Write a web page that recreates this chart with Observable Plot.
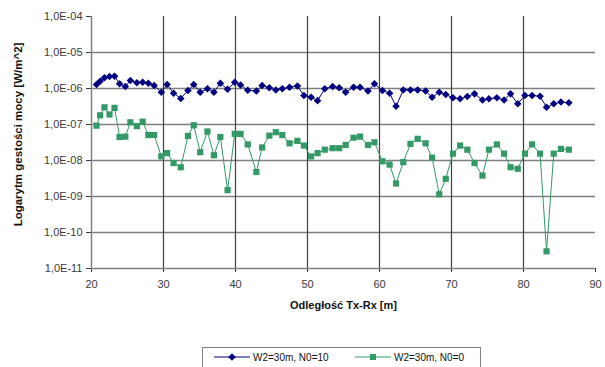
<!DOCTYPE html>
<html>
<head>
<meta charset="utf-8">
<script src="https://cdn.jsdelivr.net/npm/d3@7"></script>
<script src="https://cdn.jsdelivr.net/npm/@observablehq/plot@0.6"></script>
<style>
  html, body { margin: 0; padding: 0; background: #fff; }
  #wrap { position: relative; width: 605px; height: 367px; overflow: hidden; font-family: "Liberation Sans", Arial, sans-serif; }
  #legend { position: absolute; left: 202px; top: 347px; }
</style>
</head>
<body>
<div id="wrap"><div id="chart"></div><div id="legend"></div></div>
<script>
const distances = [20.7,21.2,21.8,22.5,23.2,23.9,24.7,25.4,26.3,27.1,27.9,28.7,29.7,30.5,31.4,32.4,33.4,34.2,35.1,36.1,37.0,37.9,38.9,39.9,40.7,41.7,42.9,
  43.7,44.7,45.6,46.5,47.5,48.6,49.5,50.5,51.4,52.4,53.5,54.4,55.3,56.4,57.3,58.4,59.3,60.4,61.4,62.3,63.3,64.3,65.3,66.4,
  67.3,68.3,69.2,70.2,71.2,72.2,73.2,74.3,75.2,76.3,77.3,78.2,79.2,80.2,81.2,82.3,83.2,84.2,85.2,86.3];
const seriesN10 = [1.29e-6,1.6e-6,1.98e-6,2.15e-6,2.2e-6,1.35e-6,1.14e-6,1.67e-6,1.44e-6,1.5e-6,1.4e-6,1.21e-6,7.9e-7,1.29e-6,7.4e-7,5.3e-7,8.8e-7,1.29e-6,7.9e-7,9.8e-7,7.9e-7,1.4e-6,9.5e-7,1.5e-6,1.25e-6,8.9e-7,8.5e-7,
  1.21e-6,1.05e-6,9.1e-7,9.8e-7,1.09e-6,1.17e-6,6.4e-7,5.7e-7,4.6e-7,9.8e-7,1.14e-6,1.05e-6,7.9e-7,1.09e-6,1.09e-6,8.5e-7,1.35e-6,8.8e-7,7.4e-7,3.2e-7,9.1e-7,9.1e-7,9.1e-7,8.5e-7,
  5.7e-7,7.9e-7,6.8e-7,5.5e-7,5.2e-7,6.0e-7,7.1e-7,4.8e-7,5.2e-7,5.5e-7,4.8e-7,7.1e-7,3.75e-7,6.4e-7,6.4e-7,6.1e-7,3.0e-7,3.75e-7,4.2e-7,4.0e-7];
const seriesN0 = [9.3e-8,1.8e-7,3.0e-7,1.9e-7,2.9e-7,4.5e-8,4.6e-8,1.15e-7,9.0e-8,1.2e-7,5.1e-8,5.1e-8,1.3e-8,1.6e-8,8.5e-9,6.5e-9,4.8e-8,9.5e-8,1.7e-8,6.4e-8,1.4e-8,4.5e-8,1.5e-9,5.5e-8,5.5e-8,2.8e-8,4.8e-9,
  2.3e-8,4.9e-8,6.1e-8,5.1e-8,3.0e-8,3.5e-8,2.6e-8,1.3e-8,1.6e-8,2.0e-8,2.2e-8,2.2e-8,2.7e-8,4.3e-8,4.6e-8,2.7e-8,3.2e-8,9.5e-9,7.7e-9,2.3e-9,9.0e-9,2.9e-8,4.0e-8,3.0e-8,
  1.2e-8,1.15e-9,3.1e-9,1.55e-8,2.6e-8,2.0e-8,8.5e-9,3.8e-9,2.0e-8,2.8e-8,1.55e-8,6.5e-9,5.9e-9,1.55e-8,2.8e-8,1.55e-8,3.0e-11,1.55e-8,2.1e-8,2.0e-8];
const seriesNames = ["W2=30m, N0=10", "W2=30m, N0=0"];
const xTicks = [20,30,40,50,60,70,80,90];
const yTicks = [1e-11,1e-10,1e-9,1e-8,1e-7,1e-6,1e-5,1e-4];
const xTitle = "Odległość Tx-Rx [m]";
const yTitle = "Logarytm gestości mocy [W/m^2]";

const blueColor = "#000080", greenColor = "#339966";
const rowsA = distances.map((d, i) => ({x: d, y: seriesN10[i], s: seriesNames[0]}));
const rowsB = distances.map((d, i) => ({x: d, y: seriesN0[i], s: seriesNames[1]}));

const fmt = d => {
  const e = Math.round(Math.log10(d));
  return "1,0E" + (e < 0 ? "-" : "+") + String(Math.abs(e)).padStart(2, "0");
};

const chart = Plot.plot({
  width: 605, height: 330,
  marginLeft: 91, marginRight: 10, marginTop: 16, marginBottom: 62,
  style: {fontFamily: "'Liberation Sans', Arial, sans-serif", fontSize: "11px", color: "#3a3a3a", background: "#fff"},
  x: {domain: [20, 90], ticks: xTicks, tickFormat: d => String(d), tickSize: 4, tickPadding: 8, label: null},
  y: {type: "log", domain: [1e-11, 1e-4], ticks: yTicks, tickFormat: fmt, tickSize: 5, tickPadding: 4, label: null},
  marks: [
    Plot.ruleY(yTicks.slice(1, -1), {stroke: "#7f7f7f", strokeWidth: 1.4}),
    Plot.ruleX(xTicks.slice(1, -1), {stroke: "#404040", strokeWidth: 1.2}),
    Plot.ruleX([xTicks[0]], {stroke: "#808080", strokeWidth: 1.5}),
    Plot.ruleY([yTicks[0]], {stroke: "#808080", strokeWidth: 1.5}),
    Plot.line(rowsB, {x: "x", y: "y", stroke: greenColor, strokeWidth: 1}),
    Plot.dot(rowsB, {x: "x", y: "y", symbol: "square", fill: greenColor, stroke: "none", r: 3.5}),
    Plot.line(rowsA, {x: "x", y: "y", stroke: blueColor, strokeWidth: 1}),
    Plot.dot(rowsA, {x: "x", y: "y", symbol: "diamond2", fill: blueColor, stroke: "none", r: 3.4}),
    Plot.text([xTitle], {frameAnchor: "bottom", dy: 37, lineAnchor: "middle", textAnchor: "middle", fontWeight: "bold", fontSize: 11, fill: "#111"}),
    Plot.text([yTitle], {frameAnchor: "left", dx: -73, dy: -8, rotate: -90, lineAnchor: "middle", textAnchor: "middle", fontWeight: "bold", fontSize: 11.5, fill: "#111"})
  ]
});
document.getElementById("chart").appendChild(chart);

// Legend
const lg = d3.select("#legend").append("svg").attr("width", 280).attr("height", 24)
  .style("font-family", "'Liberation Sans', Arial, sans-serif").style("font-size", "10px");
lg.append("rect").attr("x", 0.5).attr("y", 0.5).attr("width", 278).attr("height", 30).attr("fill", "#fff").attr("stroke", "#808080");
const entries = [
  {name: seriesNames[0], color: blueColor, sym: d3.symbolDiamond2, size: 36, x0: 12},
  {name: seriesNames[1], color: greenColor, sym: d3.symbolSquare, size: 36, x0: 153}
];
for (const e of entries) {
  lg.append("line").attr("x1", e.x0).attr("x2", e.x0 + 36).attr("y1", 10).attr("y2", 10).attr("stroke", e.color).attr("stroke-width", 1);
  lg.append("path").attr("d", d3.symbol(e.sym, e.size)()).attr("transform", `translate(${e.x0 + 18},10)`).attr("fill", e.color);
  lg.append("text").attr("x", e.x0 + 39).attr("y", 14).attr("fill", "#111").text(e.name);
}
</script>
</body>
</html>
